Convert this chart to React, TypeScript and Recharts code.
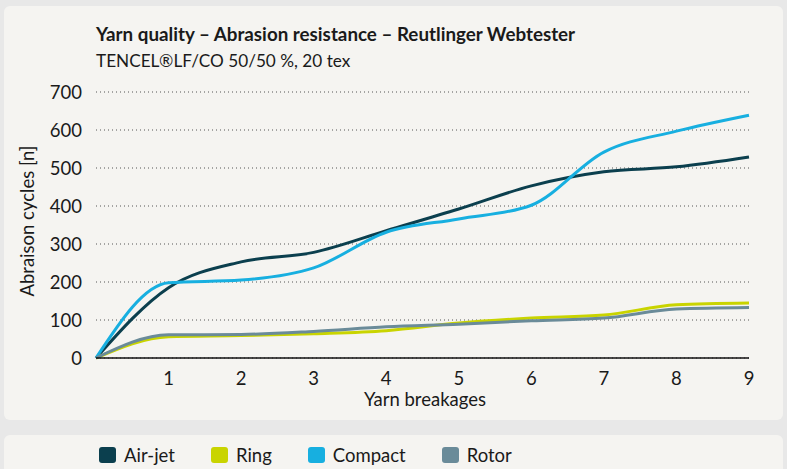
import { LineChart, Line, XAxis, YAxis, CartesianGrid } from 'recharts';

const breakages = [0, 1, 2, 3, 4, 5, 6, 7, 8, 9];
const airJet = [0, 185, 253, 278, 335, 392, 453, 490, 503, 529];
const ring = [0, 56, 59, 64, 72, 92, 105, 113, 140, 145];
const compact = [0, 198, 205, 237, 331, 366, 402, 542, 597, 639];
const rotor = [0, 61, 62, 70, 82, 89, 98, 105, 129, 133];
const xTicks = [1, 2, 3, 4, 5, 6, 7, 8, 9];
const yTicks = [0, 100, 200, 300, 400, 500, 600, 700];

const SERIES = [
  { key: 'airJet', name: 'Air-jet', color: '#0b3f4e' },
  { key: 'ring', name: 'Ring', color: '#c9d400' },
  { key: 'compact', name: 'Compact', color: '#17afe0' },
  { key: 'rotor', name: 'Rotor', color: '#6a8b99' },
];

const data = breakages.map((b, i) => ({
  x: b,
  airJet: airJet[i],
  ring: ring[i],
  compact: compact[i],
  rotor: rotor[i],
}));

const FONT = 'Lato, "Noto Sans", sans-serif';
const TEXT = '#1a1a1a';
const FS = 18.5;

export default function App() {
  return (
    <div
      style={{
        position: 'absolute',
        left: 0,
        top: 0,
        width: 787,
        height: 469,
        background: '#e8e8e8',
        fontFamily: FONT,
        color: TEXT,
        overflow: 'hidden',
      }}
    >
      <div
        style={{
          position: 'absolute',
          left: 4,
          top: 6,
          width: 779,
          height: 414,
          background: '#f5f4f1',
          borderRadius: 6,
        }}
      />
      <div
        style={{
          position: 'absolute',
          left: 4,
          top: 435,
          width: 779,
          height: 50,
          background: '#f5f4f1',
          borderRadius: 6,
        }}
      />
      <div style={{ position: 'absolute', left: 96, top: 22, fontSize: 18.8, fontWeight: 700, whiteSpace: 'nowrap' }}>
        Yarn quality – Abrasion resistance – Reutlinger Webtester
      </div>
      <div style={{ position: 'absolute', left: 96, top: 50, fontSize: 17.2, whiteSpace: 'nowrap' }}>
        TENCEL®LF/CO 50/50 %, 20 tex
      </div>
      <div
        style={{
          position: 'absolute',
          left: 27,
          top: 221,
          fontSize: FS,
          whiteSpace: 'nowrap',
          transform: 'translate(-50%, -50%) rotate(-90deg)',
        }}
      >
        Abraison cycles [n]
      </div>
      <div
        style={{
          position: 'absolute',
          left: 425,
          top: 388,
          fontSize: FS,
          whiteSpace: 'nowrap',
          transform: 'translateX(-50%)',
        }}
      >
        Yarn breakages
      </div>

      <div style={{ position: 'absolute', left: 0, top: 0 }}>
        <LineChart
          width={787}
          height={469}
          data={data}
          margin={{ top: 92, right: 38, bottom: 71, left: 36 }}
        >
          <CartesianGrid
            horizontal
            vertical={false}
            stroke="#555"
            strokeDasharray="1 3"
            strokeWidth={1}
          />
          <XAxis
            dataKey="x"
            type="number"
            domain={[0, 9]}
            ticks={xTicks}
            height={40}
            tickLine={false}
            tickSize={0}
            tickMargin={14}
            axisLine={{ stroke: '#111', strokeWidth: 1.5 }}
            tick={{ fill: TEXT, fontSize: FS, fontFamily: FONT }}
          />
          <YAxis
            type="number"
            domain={[0, 700]}
            ticks={yTicks}
            width={60}
            tickLine={false}
            tickSize={0}
            tickMargin={14}
            axisLine={false}
            tick={{ fill: TEXT, fontSize: FS, fontFamily: FONT }}
          />
          {SERIES.map((s) => (
            <Line
              key={s.key}
              type="monotone"
              dataKey={s.key}
              name={s.name}
              stroke={s.color}
              strokeWidth={3}
              dot={false}
              activeDot={false}
              isAnimationActive={false}
            />
          ))}
        </LineChart>
      </div>

      <div
        style={{
          position: 'absolute',
          left: 99,
          top: 444,
          display: 'flex',
          alignItems: 'center',
          fontSize: FS,
        }}
      >
        {SERIES.map((s) => (
          <div key={s.key} style={{ display: 'flex', alignItems: 'center', marginRight: 36 }}>
            <span
              style={{
                display: 'inline-block',
                width: 17,
                height: 16,
                borderRadius: 3,
                background: s.color,
                marginRight: 8,
              }}
            />
            <span>{s.name}</span>
          </div>
        ))}
      </div>
    </div>
  );
}
